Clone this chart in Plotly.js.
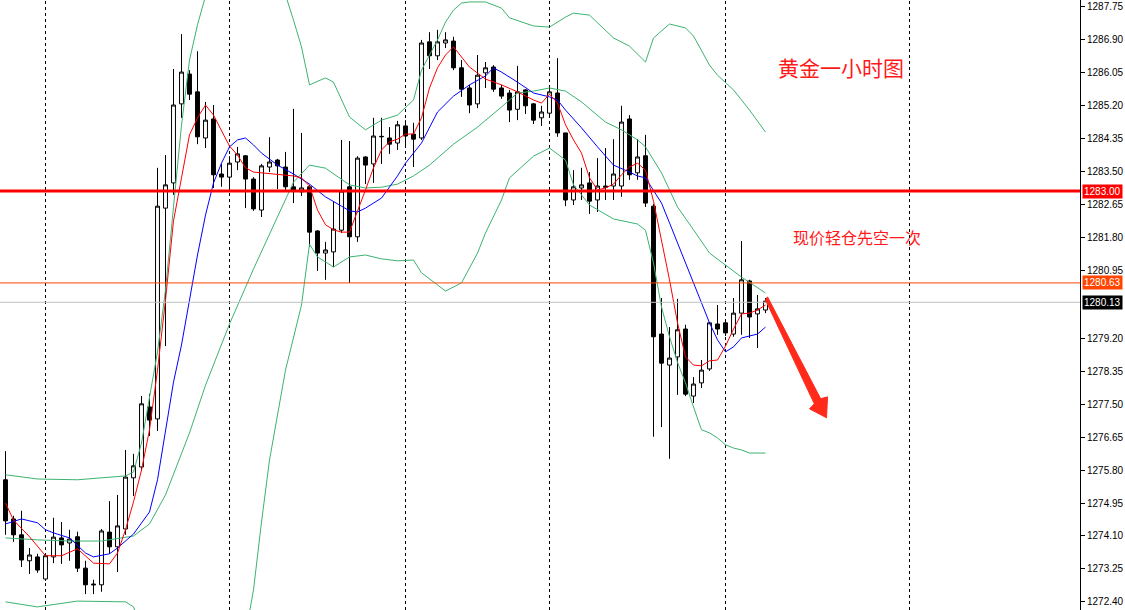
<!DOCTYPE html>
<html><head><meta charset="utf-8">
<script src="https://cdn.plot.ly/plotly-3.0.1.min.js"></script>
<style>html,body{margin:0;padding:0;background:#fff;}#chart{width:1125px;height:610px;}</style>
</head><body><div id="chart"></div>
<script>
// ---- Hourly gold candles ----
const open = [1275.55,1274.54,1274.13,1273.46,1273.56,1272.99,1273.56,1274.05,1273.92,1274.08,
1273.27,1272.86,1272.84,1274.20,1273.82,1274.28,1275.60,1275.88,1277.43,1277.12,
1282.56,1283.21,1285.25,1286.02,1285.56,1284.37,1284.86,1283.44,1283.36,1283.75,
1283.91,1283.31,1282.51,1283.62,1283.80,1283.62,1283.11,1282.98,1283.11,1281.97,
1281.40,1281.43,1281.99,1283.11,1281.82,1283.88,1283.70,1284.40,1284.37,1284.24,
1284.68,1284.47,1284.37,1286.85,1286.49,1286.82,1286.87,1286.18,1285.66,1285.25,
1286.05,1286.20,1285.66,1285.53,1285.11,1285.61,1285.25,1284.89,1285.01,1285.53,
1284.50,1282.77,1283.08,1283.21,1282.77,1283.13,1283.13,1283.13,1284.86,1283.47,
1283.91,1282.61,1279.31,1278.51,1278.72,1279.44,1277.71,1278.05,1278.41,1279.57,
1279.60,1279.31,1279.85,1280.68,1279.83,1279.93];
const high = [1276.29,1274.62,1274.75,1273.79,1273.64,1273.66,1274.57,1274.46,1274.26,1274.21,
1273.46,1272.97,1274.28,1275.00,1275.16,1276.32,1276.22,1277.71,1277.77,1283.60,
1283.93,1286.15,1287.05,1286.12,1286.61,1285.30,1285.22,1283.70,1283.90,1284.14,
1283.93,1283.36,1283.70,1284.39,1283.83,1284.01,1285.12,1284.50,1283.16,1281.99,
1281.69,1282.74,1284.32,1284.29,1283.90,1283.90,1284.89,1284.89,1284.65,1284.81,
1284.83,1284.76,1286.90,1287.10,1287.16,1287.10,1286.98,1286.38,1285.74,1286.51,
1286.33,1286.25,1285.74,1285.61,1286.23,1285.63,1285.27,1285.20,1285.66,1286.43,
1284.50,1283.54,1283.60,1283.49,1283.85,1284.11,1284.34,1285.20,1284.96,1284.34,
1284.45,1282.67,1280.24,1279.49,1280.22,1279.55,1278.20,1278.64,1279.62,1280.06,
1279.62,1280.24,1281.71,1280.71,1280.32,1280.24];
const low = [1274.13,1273.95,1273.30,1273.12,1273.15,1272.94,1273.40,1273.38,1273.46,1273.17,
1272.60,1272.60,1272.66,1273.64,1273.17,1274.13,1275.13,1275.78,1276.68,1276.81,
1279.00,1282.90,1284.89,1285.35,1284.21,1284.11,1283.08,1283.11,1283.03,1283.54,
1282.56,1282.49,1282.33,1283.49,1283.05,1283.03,1282.69,1282.87,1281.56,1280.94,
1280.71,1281.04,1281.92,1280.63,1281.69,1283.18,1283.21,1283.70,1283.96,1284.06,
1284.11,1283.62,1284.32,1286.15,1286.38,1286.69,1286.12,1285.43,1285.01,1285.14,
1285.66,1285.56,1285.38,1284.78,1284.83,1284.99,1284.73,1284.68,1284.94,1284.40,
1282.61,1282.64,1282.77,1282.41,1282.46,1282.77,1282.77,1282.85,1283.29,1283.29,
1282.59,1276.66,1276.91,1276.09,1277.74,1277.71,1277.53,1277.92,1278.36,1279.29,
1279.26,1279.24,1279.29,1279.21,1278.95,1279.85];
const close = [1274.49,1274.13,1273.48,1273.61,1273.22,1273.59,1274.07,1273.87,1274.02,1273.27,
1272.84,1272.84,1274.23,1273.82,1274.36,1275.62,1275.91,1277.51,1277.09,1282.61,
1283.16,1285.22,1286.07,1285.50,1284.40,1284.83,1283.42,1283.36,1283.72,1283.96,
1283.31,1282.54,1283.65,1283.75,1283.65,1283.11,1283.00,1283.08,1281.94,1281.40,
1281.48,1282.02,1283.00,1281.82,1283.85,1283.67,1284.42,1284.41,1284.21,1284.71,
1284.42,1284.34,1286.82,1286.49,1286.85,1286.90,1286.18,1285.63,1285.22,1285.99,
1286.18,1285.63,1285.45,1285.09,1285.56,1285.20,1284.83,1285.04,1285.56,1284.50,
1282.77,1283.11,1283.16,1282.74,1283.13,1283.10,1283.44,1284.78,1283.42,1283.88,
1282.69,1279.24,1278.56,1278.69,1279.42,1277.76,1278.02,1278.38,1279.60,1279.44,
1279.34,1279.85,1280.71,1279.75,1279.96,1280.16];

// ---- Fast MA (red), read at bar positions ----
const maFastBar = [0,1,3,5,7,9,11,13,14,15,16,17,18,19,20,21,22,23,24,25,26,27,28,29,30,31,32,34,36,37,38,39,40,41,42,43,44,45,46,47,48,49,50,51,52,53,54,55,56,57,58,60,62,64,66,67,68,69,70,71,72,73,74,75,76,77,78,79,80,81,82,83,84,85,86,87,88,89,90,91,92,93,94,95];
const maFast = [1274.95,1274.51,1274.08,1273.59,1273.59,1273.77,1273.40,1273.38,1273.66,1274.26,1274.98,1275.80,1276.84,1278.38,1280.19,1282.23,1283.34,1284.45,1284.89,1285.22,1284.96,1284.55,1284.16,1283.93,1283.60,1283.49,1283.47,1283.44,1283.39,1283.34,1283.13,1282.51,1282.13,1282.00,1281.94,1281.94,1282.46,1283.03,1283.60,1284.06,1284.27,1284.34,1284.47,1284.47,1284.89,1285.66,1286.18,1286.51,1286.72,1286.46,1286.20,1285.89,1285.74,1285.56,1285.35,1285.27,1285.50,1285.27,1284.71,1284.32,1283.98,1283.34,1283.03,1283.08,1283.18,1283.42,1283.62,1283.72,1283.54,1282.74,1281.74,1280.71,1279.60,1278.72,1278.51,1278.49,1278.62,1278.64,1279.00,1279.44,1279.83,1279.85,1279.93,1280.06];

// ---- Slow MA (blue) ----
const maSlowBar = [0,2,4,5,6,8,10,11,13,14,16,18,19,20,21,22,23,24,25,26,27,28,29,30,31,32,34,36,38,40,42,43,44,45,47,49,50,52,54,56,58,60,61,62,64,66,68,69,70,72,74,76,78,79,80,81,82,83,84,85,86,87,88,89,90,91,92,93,94,95];
const maSlow = [1274.41,1274.54,1274.44,1274.26,1274.18,1274.05,1273.66,1273.56,1273.64,1273.79,1274.15,1274.72,1275.55,1276.78,1278.07,1279.03,1280.19,1281.35,1282.38,1283.21,1283.72,1284.14,1284.32,1284.37,1284.19,1283.98,1283.67,1283.44,1283.18,1282.85,1282.61,1282.49,1282.46,1282.56,1282.82,1283.39,1283.72,1284.24,1285.04,1285.45,1285.74,1285.97,1286.18,1286.07,1285.81,1285.53,1285.43,1285.35,1285.09,1284.63,1284.14,1283.67,1283.49,1283.39,1283.34,1283.03,1282.69,1282.18,1281.66,1281.14,1280.63,1280.11,1279.60,1279.16,1278.85,1278.98,1279.21,1279.26,1279.31,1279.49];

// ---- Bollinger bands (green) ----
const bbUpperBar = [0,4,9,15,16,17,19,20,21,22,23,24,25,27,29,31,33,35,36,37,38,40,41,43,45,47,49,51,52,54,55,56,57,58,60,62,63,66,68,70,71,73,76,78,80,81,83,85,86,88,89,91,93,95];
const bbUpper = [1275.68,1275.57,1275.55,1275.65,1275.75,1276.50,1278.85,1280.45,1282.59,1284.70,1286.38,1287.29,1288.03,1288.8,1289.2,1289.2,1288.8,1288.06,1287.41,1286.72,1285.74,1285.92,1285.81,1284.91,1284.58,1284.83,1284.96,1285.35,1286.12,1286.90,1287.36,1287.67,1287.85,1287.88,1287.88,1287.72,1287.47,1287.26,1287.23,1287.49,1287.59,1287.54,1286.95,1286.74,1286.33,1286.95,1287.31,1287.21,1287.00,1286.25,1285.99,1285.61,1285.09,1284.52];
const bbMiddleBar = [0,4,8,12,16,18,20,23,25,28,31,34,36,38,40,43,45,47,49,51,53,56,59,62,64,66,68,70,72,75,77,79,80,82,84,86,88,90,92,95];
const bbMiddle = [1274.05,1274.00,1273.97,1273.97,1274.10,1274.41,1275.16,1276.76,1277.99,1279.57,1280.99,1282.33,1283.23,1283.67,1283.59,1283.16,1283.08,1283.10,1283.18,1283.39,1283.67,1284.21,1284.65,1285.17,1285.53,1285.58,1285.66,1285.58,1285.30,1284.78,1284.58,1284.32,1284.14,1283.47,1282.59,1282.00,1281.40,1281.09,1280.78,1280.37];
const bbLowerBar = [0,4,9,15,16,17,19,21,23,25,27,29,31,32,33,35,37,38,39,41,43,45,47,49,51,52,55,57,59,60,62,63,66,68,70,71,73,76,79,80,81,82,83,84,85,86,87,88,89,90,91,92,93,95];
const bbLower = [1272.40,1272.27,1272.42,1272.40,1272.27,1271.68,1270.6,1269.2,1268.0,1267.8,1268.6,1270.4,1272.71,1274.46,1276.06,1278.38,1280.06,1281.63,1281.30,1281.04,1281.30,1281.35,1281.25,1281.20,1281.22,1280.89,1280.42,1280.63,1281.40,1281.92,1282.77,1283.34,1283.90,1284.11,1283.80,1283.16,1282.64,1282.28,1282.15,1281.99,1281.14,1280.01,1279.24,1278.58,1278.05,1277.43,1276.84,1276.76,1276.63,1276.45,1276.37,1276.32,1276.24,1276.24];

// ---- Price levels and separators ----
const levelPrices = [1283.00, 1280.63, 1280.13];
const levelLabels = ['1283.00', '1280.63', '1280.13'];
const separatorBars = [5, 28, 50, 68, 90, 113];
const tickPrices = [1287.75,1286.90,1286.05,1285.20,1284.35,1283.50,1282.65,1281.80,1280.95,1279.20,1278.35,1277.50,1276.65,1275.80,1274.95,1274.10,1273.25,1272.40];
const tickLabels = ['1287.75','1286.90','1286.05','1285.20','1284.35','1283.50','1282.65','1281.80','1280.95','1279.20','1278.35','1277.50','1276.65','1275.80','1274.95','1274.10','1273.25','1272.40'];
const titleText = '黄金一小时图';
const noteText = '现价轻仓先空一次';

const bars = open.map((_, k) => k);
function line(x, y, color) {
  return {type: 'scatter', mode: 'lines', x: x, y: y, line: {color: color, width: 1}, hoverinfo: 'skip', showlegend: false};
}
const green = '#3CB371';
const data = [
  line(bbUpperBar, bbUpper, green),
  line(bbMiddleBar, bbMiddle, green),
  line(bbLowerBar, bbLower, green),
  line(maSlowBar, maSlow, '#0000FF'),
  line(maFastBar, maFast, '#FF0000'),
  {type: 'candlestick', x: bars, open: open, high: high, low: low, close: close,
   increasing: {line: {color: '#000', width: 1}, fillcolor: '#FFFFFF'},
   decreasing: {line: {color: '#000', width: 1}, fillcolor: '#000000'},
   whiskerwidth: 0, hoverinfo: 'skip', showlegend: false}
];

const levelStyles = [
  {color: '#FF0000', width: 3, bg: '#FF0000'},
  {color: '#FF4500', width: 1, bg: '#FF4500'},
  {color: '#C0C0C0', width: 1, bg: '#000000'}
];
const shapes = [];
separatorBars.forEach(b => shapes.push({type: 'line', xref: 'x', yref: 'paper', x0: b, x1: b, y0: 0, y1: 1,
  line: {color: '#000', width: 1, dash: '3px,3px'}, layer: 'below'}));
levelPrices.forEach((p, k) => shapes.push({type: 'line', xref: 'paper', yref: 'y', x0: 0, x1: 1, y0: p, y1: p,
  line: {color: levelStyles[k].color, width: levelStyles[k].width}, layer: 'above'}));
// red arrow decoration
shapes.push({type: 'path', xref: 'x', yref: 'y', layer: 'above',
  path: 'M 95.25,1280.27 L 101.9,1277.64 L 102.75,1277.69 L 102.63,1277.15 L 100.5,1277.38 L 101.1,1277.51 L 95.0,1280.19 Z',
  fillcolor: '#FF2A1A', line: {color: '#FF2A1A', width: 1}});

const annotations = [];
levelPrices.forEach((p, k) => annotations.push({xref: 'paper', yref: 'y', x: 1, y: p, xanchor: 'left', yanchor: 'middle',
  xshift: 2, text: levelLabels[k], showarrow: false, bgcolor: levelStyles[k].bg, borderpad: 1,
  font: {family: 'Liberation Sans, Arial, sans-serif', size: 10, color: '#FFFFFF'}}));
annotations.push({xref: 'paper', yref: 'paper', x: 0.7787, y: 0.890, text: titleText, showarrow: false,
  xanchor: 'center', yanchor: 'middle', font: {family: 'Noto Sans CJK SC', size: 21, color: '#FF1A1A'}});
annotations.push({xref: 'paper', yref: 'paper', x: 0.7935, y: 0.6115, text: noteText, showarrow: false,
  xanchor: 'center', yanchor: 'middle', font: {family: 'Noto Sans CJK SC', size: 16, color: '#FF1A1A'}});

const layout = {
  width: 1125, height: 610,
  margin: {l: 0, r: 45, t: 0, b: 0, pad: 0},
  paper_bgcolor: '#FFFFFF', plot_bgcolor: '#FFFFFF',
  showlegend: false,
  xaxis: {range: [-0.6875, 134.3125], visible: false, rangeslider: {visible: false}, fixedrange: true},
  yaxis: {side: 'right', range: [1272.19, 1287.93], tickmode: 'array', tickvals: tickPrices, ticktext: tickLabels,
    ticks: 'outside', ticklen: 4, tickcolor: '#000', showline: true, linecolor: '#000', linewidth: 1,
    showgrid: false, zeroline: false, fixedrange: true,
    tickfont: {family: 'Liberation Sans, Arial, sans-serif', size: 10, color: '#000'}},
  shapes: shapes,
  annotations: annotations
};
Plotly.newPlot('chart', data, layout, {staticPlot: true, displayModeBar: false});
</script>
</body></html>
